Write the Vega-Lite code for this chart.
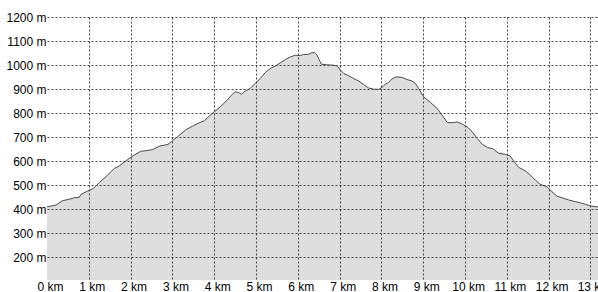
{
  "$schema": "https://vega.github.io/schema/vega-lite/v6.json",
  "autosize": "none",
  "width": 551,
  "height": 263,
  "padding": {"left": 47, "top": 17, "right": 0, "bottom": 12},
  "background": "white",
  "config": {
    "view": {"stroke": null},
    "axis": {
      "labelFont": "Liberation Sans",
      "labelFontSize": 12,
      "labelColor": "#000",
      "domain": false,
      "ticks": false,
      "tickSize": 0,
      "gridColor": "#444",
      "gridDash": [2, 2],
      "gridWidth": 1,
      "title": null
    }
  },
  "data": {
    "values": [
      {"km": 0.0, "m": 410}, {"km": 0.1, "m": 414}, {"km": 0.215, "m": 418}, {"km": 0.37, "m": 436},
      {"km": 0.53, "m": 442}, {"km": 0.65, "m": 448}, {"km": 0.77, "m": 450}, {"km": 0.81, "m": 462},
      {"km": 0.97, "m": 476}, {"km": 1.11, "m": 487}, {"km": 1.25, "m": 511}, {"km": 1.45, "m": 543},
      {"km": 1.61, "m": 570}, {"km": 1.73, "m": 581}, {"km": 1.89, "m": 602}, {"km": 2.05, "m": 622},
      {"km": 2.25, "m": 642}, {"km": 2.37, "m": 644}, {"km": 2.53, "m": 649}, {"km": 2.69, "m": 663},
      {"km": 2.89, "m": 670}, {"km": 3.0, "m": 685}, {"km": 3.12, "m": 702}, {"km": 3.33, "m": 732},
      {"km": 3.48, "m": 746}, {"km": 3.64, "m": 760}, {"km": 3.76, "m": 768}, {"km": 3.88, "m": 788},
      {"km": 4.0, "m": 806}, {"km": 4.16, "m": 829}, {"km": 4.31, "m": 854}, {"km": 4.39, "m": 871},
      {"km": 4.5, "m": 889}, {"km": 4.58, "m": 886}, {"km": 4.65, "m": 879}, {"km": 4.74, "m": 892},
      {"km": 4.86, "m": 903}, {"km": 4.98, "m": 924}, {"km": 5.1, "m": 944}, {"km": 5.22, "m": 969},
      {"km": 5.34, "m": 986}, {"km": 5.46, "m": 996}, {"km": 5.58, "m": 1009}, {"km": 5.7, "m": 1023},
      {"km": 5.82, "m": 1034}, {"km": 5.94, "m": 1041}, {"km": 6.06, "m": 1040}, {"km": 6.14, "m": 1044},
      {"km": 6.26, "m": 1045}, {"km": 6.32, "m": 1051}, {"km": 6.4, "m": 1052}, {"km": 6.46, "m": 1041},
      {"km": 6.51, "m": 1023}, {"km": 6.56, "m": 1004}, {"km": 6.7, "m": 1001}, {"km": 6.82, "m": 1000},
      {"km": 6.94, "m": 997}, {"km": 7.02, "m": 979}, {"km": 7.1, "m": 965}, {"km": 7.22, "m": 955},
      {"km": 7.34, "m": 944}, {"km": 7.45, "m": 934}, {"km": 7.57, "m": 920}, {"km": 7.69, "m": 905},
      {"km": 7.81, "m": 900}, {"km": 7.93, "m": 899}, {"km": 8.01, "m": 907}, {"km": 8.09, "m": 920},
      {"km": 8.17, "m": 928}, {"km": 8.25, "m": 942}, {"km": 8.35, "m": 951}, {"km": 8.49, "m": 949},
      {"km": 8.61, "m": 940}, {"km": 8.73, "m": 934}, {"km": 8.81, "m": 924}, {"km": 8.89, "m": 903},
      {"km": 9.01, "m": 868}, {"km": 9.17, "m": 845}, {"km": 9.33, "m": 820}, {"km": 9.45, "m": 792},
      {"km": 9.57, "m": 762}, {"km": 9.69, "m": 760}, {"km": 9.81, "m": 764}, {"km": 9.93, "m": 755},
      {"km": 10.05, "m": 743}, {"km": 10.17, "m": 723}, {"km": 10.29, "m": 695}, {"km": 10.41, "m": 671},
      {"km": 10.53, "m": 658}, {"km": 10.68, "m": 651}, {"km": 10.8, "m": 633}, {"km": 10.96, "m": 629},
      {"km": 11.08, "m": 622}, {"km": 11.16, "m": 602}, {"km": 11.28, "m": 575}, {"km": 11.44, "m": 560},
      {"km": 11.56, "m": 543}, {"km": 11.68, "m": 522}, {"km": 11.8, "m": 504}, {"km": 11.96, "m": 494},
      {"km": 12.08, "m": 473}, {"km": 12.2, "m": 455}, {"km": 12.32, "m": 448}, {"km": 12.48, "m": 439},
      {"km": 12.64, "m": 432}, {"km": 12.76, "m": 427}, {"km": 12.88, "m": 421}, {"km": 13.0, "m": 414},
      {"km": 13.18, "m": 410}
    ]
  },
  "mark": {
    "type": "area",
    "color": "#dddddd",
    "opacity": 1,
    "clip": true,
    "line": {"color": "#4a4a4a", "strokeWidth": 1}
  },
  "encoding": {
    "x": {
      "field": "km",
      "type": "quantitative",
      "scale": {"domain": [0, 13.18], "nice": false, "zero": false},
      "axis": {
        "values": [0, 1, 2, 3, 4, 5, 6, 7, 8, 9, 10, 11, 12, 13],
        "labelExpr": "datum.value + ' km'",
        "labelPadding": 1,
        "labelOffset": 3,
        "labelFlush": false,
        "labelOverlap": false,
        "labelBound": false,
        "zindex": 1,
        "gridOpacity": {"condition": {"test": "datum.value == 0", "value": 0}, "value": 1}
      }
    },
    "y": {
      "field": "m",
      "type": "quantitative",
      "scale": {"domain": [106.2, 1200], "nice": false, "zero": false},
      "axis": {
        "values": [200, 300, 400, 500, 600, 700, 800, 900, 1000, 1100, 1200],
        "labelExpr": "datum.value + ' m'",
        "labelPadding": 1,
        "labelFlush": false,
        "labelOverlap": false,
        "zindex": 1
      }
    }
  }
}
